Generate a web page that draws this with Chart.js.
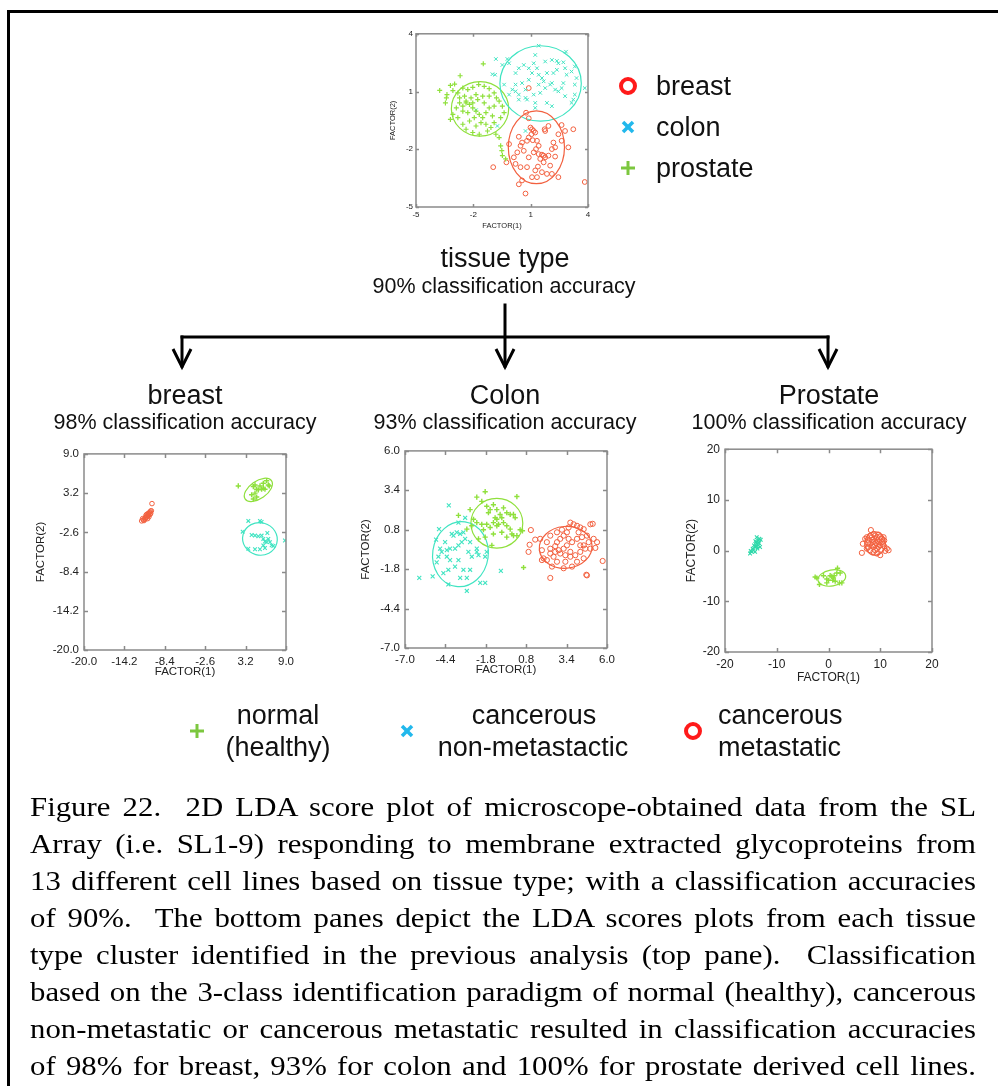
<!DOCTYPE html>
<html>
<head>
<meta charset="utf-8">
<script src="https://cdn.jsdelivr.net/npm/chart.js@4.4.1/dist/chart.umd.min.js"></script>
<style>
  body { margin: 0; width: 998px; height: 1086px; background: #fff; position: relative; overflow: hidden;
         font-family: "Liberation Sans", Arial, sans-serif; color: #111; }
  #frame { position: absolute; left: 7px; top: 10px; width: 1100px; height: 1200px;
           border-left: 3px solid #000; border-top: 3px solid #000; }
  .c { position: absolute; transform: translate(-50%, -50%); white-space: nowrap; line-height: 1; }
  .l { position: absolute; transform: translateY(-50%); white-space: nowrap; line-height: 1; }
  .h1 { font-size: 27px; }
  .h2 { font-size: 21.5px; }
  .lg { font-size: 27px; }
  canvas { position: absolute; }
  svg { position: absolute; left: 0; top: 0; pointer-events: none; }
  /* the caption in the source is slightly stretched sideways */
  #cap { position: absolute; left: 30px; top: 788px; width: 860px; color: #000;
         transform: scaleX(1.1); transform-origin: 0 0;
         font-family: "Liberation Serif", "Times New Roman", serif; font-size: 28px; line-height: 37px; }
  #cap div { text-align: justify; text-align-last: justify; }
</style>
</head>
<body>
<div id="frame"></div>

<canvas id="cTop" width="212" height="204" style="left:388px;top:26px"></canvas>
<canvas id="cBreast" width="266" height="237" style="left:34px;top:442px"></canvas>
<canvas id="cColon" width="262" height="238" style="left:359px;top:439px"></canvas>
<canvas id="cProstate" width="262" height="248" style="left:684px;top:437px"></canvas>

<svg width="998" height="1086">
  <g stroke="#000" stroke-width="3" fill="none" stroke-linecap="square">
    <line x1="505" y1="305" x2="505" y2="366"/>
    <line x1="182" y1="337" x2="828" y2="337"/>
    <line x1="182" y1="337" x2="182" y2="366"/>
    <line x1="828" y1="337" x2="828" y2="366"/>
    <polyline points="173,349 182,367 191,349" stroke-linecap="butt"/>
    <polyline points="496,349 505,367 514,349" stroke-linecap="butt"/>
    <polyline points="819,349 828,367 837,349" stroke-linecap="butt"/>
  </g>
  <!-- top legend markers -->
  <circle cx="628" cy="86" r="7" stroke="#ff1a1a" stroke-width="4" fill="none"/>
  <g stroke="#22b8ec" stroke-width="3.5"><line x1="623" y1="122" x2="633" y2="132"/><line x1="633" y1="122" x2="623" y2="132"/></g>
  <g stroke="#7cc73f" stroke-width="3"><line x1="621" y1="168" x2="635" y2="168"/><line x1="628" y1="161" x2="628" y2="175"/></g>
  <!-- bottom legend markers -->
  <g stroke="#7cc73f" stroke-width="3"><line x1="190" y1="731" x2="204" y2="731"/><line x1="197" y1="724" x2="197" y2="738"/></g>
  <g stroke="#22b8ec" stroke-width="3.5"><line x1="402" y1="726" x2="412" y2="736"/><line x1="412" y1="726" x2="402" y2="736"/></g>
  <circle cx="693" cy="731" r="7" stroke="#ff1a1a" stroke-width="4" fill="none"/>
</svg>

<div class="l lg" style="left:656px;top:86px">breast</div>
<div class="l lg" style="left:656px;top:127px">colon</div>
<div class="l lg" style="left:656px;top:168px">prostate</div>

<div class="c h1" style="left:505px;top:258px">tissue type</div>
<div class="c h2" style="left:504px;top:287px">90% classification accuracy</div>

<div class="c h1" style="left:185px;top:395px">breast</div>
<div class="c h2" style="left:185px;top:423px">98% classification accuracy</div>
<div class="c h1" style="left:505px;top:395px">Colon</div>
<div class="c h2" style="left:505px;top:423px">93% classification accuracy</div>
<div class="c h1" style="left:829px;top:395px">Prostate</div>
<div class="c h2" style="left:829px;top:423px">100% classification accuracy</div>

<div class="c lg" style="left:278px;top:715px">normal</div>
<div class="c lg" style="left:278px;top:747px">(healthy)</div>
<div class="c lg" style="left:534px;top:715px">cancerous</div>
<div class="c lg" style="left:533px;top:747px">non-metastactic</div>
<div class="l lg" style="left:718px;top:715px">cancerous</div>
<div class="l lg" style="left:718px;top:747px">metastatic</div>

<div id="cap">
  <div>Figure 22.&nbsp; 2D LDA score plot of microscope-obtained data from the SL</div>
  <div>Array (i.e. SL1-9) responding to membrane extracted glycoproteins from</div>
  <div>13 different cell lines based on tissue type; with a classification accuracies</div>
  <div>of 90%.&nbsp; The bottom panes depict the LDA scores plots from each tissue</div>
  <div>type cluster identified in the previous analysis (top pane).&nbsp; Classification</div>
  <div>based on the 3-class identification paradigm of normal (healthy), cancerous</div>
  <div>non-metastatic or cancerous metastatic resulted in classification accuracies</div>
  <div>of 98% for breast, 93% for colon and 100% for prostate derived cell lines.</div>
</div>

<script>
// ---- top pane: tissue type (FACTOR(1), FACTOR(2)) ----
const topTicksX = [-5, -2, 1, 4];
const topTicksY = [-5, -2, 1, 4];
const topProstate = [[-1.48,2.44],[-2.69,1.82],[-2.98,1.39],[-3.20,1.32],[-3.76,1.06],[-3.38,0.84],[-3.41,0.67],[-3.46,0.41],
  [-3.07,1.05],[-2.81,0.93],[-2.55,1.18],[-2.29,1.10],[-2.03,1.22],[-1.72,1.36],[-1.43,1.27],[-1.17,1.15],[-0.91,0.93],
  [-0.79,0.67],[-0.65,0.50],[-0.48,0.24],[-0.39,-0.10],[-0.57,-0.36],[-0.91,-0.62],[-1.08,-0.87],[-0.82,-1.22],[-0.65,-1.39],
  [-0.57,-1.82],[-0.51,-2.07],[-0.48,-2.33],[-0.31,-2.50],[-1.26,-1.05],[-1.69,-1.22],[-2.03,-1.13],[-2.38,-0.96],[-2.55,-0.70],
  [-2.81,-0.36],[-3.07,-0.19],[-3.20,-0.45],[-2.72,0.41],[-2.55,0.24],[-2.38,0.50],[-2.20,0.33],[-2.03,0.15],[-1.86,-0.02],
  [-1.69,-0.19],[-1.51,-0.36],[-1.34,-0.10],[-1.17,0.15],[-1.43,0.41],[-1.77,0.58],[-2.12,0.67],[-2.46,0.76],[-2.72,0.67],
  [-2.89,0.15],[-2.29,-0.10],[-1.95,-0.36],[-1.60,-0.62],[-1.34,-0.70],[-1.86,-0.79],[-2.20,-0.53],[-2.55,-0.02],[-1.17,0.76],
  [-1.51,0.76],[-1.86,0.84],[-0.91,0.24],[-1.00,-0.27],[-2.38,0.41],[-2.03,0.41]];
const topColon = [[1.42,3.38],[2.85,3.07],[-0.82,2.69],[-0.22,2.69],[-0.48,2.38],[-0.13,2.47],[-1.0,1.90],[-0.86,1.87],[0.21,1.96],
  [0.38,2.21],[0.64,2.38],[1.16,2.47],[1.24,2.90],[1.76,2.56],[2.11,2.64],[2.37,2.59],[2.45,2.47],[2.71,2.52],[2.80,2.21],
  [2.37,2.13],[2.19,1.96],[1.85,1.96],[1.59,1.70],[1.68,1.53],[1.42,1.87],[1.07,1.96],[0.90,1.61],[0.55,1.44],[0.21,1.36],
  [0.04,1.10],[-0.13,0.84],[0.38,0.84],[0.73,0.67],[1.24,0.41],[1.16,0.84],[1.50,0.93],[1.76,1.18],[2.02,1.36],[2.28,1.10],
  [2.45,1.01],[2.71,1.44],[2.88,1.87],[3.14,2.04],[3.40,1.70],[3.31,1.36],[3.31,0.84],[3.23,0.58],[3.14,0.41],[2.80,0.76],
  [2.11,0.24],[1.85,0.41],[1.24,0.15],[0.81,0.58],[0.38,0.58],[0.21,1.01],[-0.39,1.36],[0.73,1.10],[1.42,1.36],[2.11,1.44],
  [2.62,1.18],[3.83,1.18],[3.31,2.30],[0.90,2.21],[1.33,2.21],[-0.74,-0.79],[0.73,-1.05],[-1.86,0.03]];
const topBreast = [[0.90,1.18],[0.76,-0.10],[0.90,-0.39],[0.99,-0.87],[1.07,-0.96],[1.16,-1.05],[1.04,-1.22],[1.24,-1.13],
  [0.90,-1.39],[0.38,-1.35],[0.47,-1.82],[0.55,-1.65],[0.81,-1.56],[1.11,-1.53],[1.33,-1.56],[1.42,-1.82],[1.28,-1.99],
  [1.16,-2.16],[1.42,-2.25],[1.59,-2.28],[1.76,-2.42],[1.68,-2.33],[1.50,-2.50],[1.93,-2.33],[2.11,-1.99],[2.28,-1.90],
  [2.19,-1.65],[2.62,-1.56],[2.45,-1.22],[1.76,-1.05],[1.73,-0.96],[1.93,-0.79],[2.62,-0.74],[3.23,-0.96],[2.80,-1.05],
  [2.97,-1.90],[-0.13,-1.73],[0.30,-2.16],[0.12,-2.42],[-0.27,-2.68],[0.21,-2.76],[0.47,-2.93],[0.81,-2.93],[1.24,-3.10],
  [1.59,-3.19],[1.85,-3.28],[2.11,-3.28],[2.45,-3.45],[1.07,-3.45],[0.55,-3.62],[0.38,-3.82],[0.73,-4.30],[1.38,-2.90],
  [0.90,-2.42],[0.64,-2.08],[-0.96,-2.93],[3.83,-3.70],[1.33,-3.45],[2.02,-2.85],[2.28,-2.38],[1.68,-2.68]];
// ellipses: [centre x, centre y, semi-axis x, semi-axis y, tilt in degrees]
const topProstateEll = [-1.65, 0.10, 1.50, 1.42, 0];
const topColonEll = [1.52, 1.42, 2.13, 1.96, 0];
const topBreastEll = [1.30, -1.90, 1.47, 1.89, 0];

// ---- breast pane ----
const breastTicks = [-20.0, -14.2, -8.4, -2.6, 3.2, 9.0];
const breastNormal = [[2.15,4.26],[4.31,4.17],[4.55,4.41],[5.27,4.26],[5.74,4.65],[6.22,5.04],[6.46,4.41],[4.79,3.78],
  [5.50,3.78],[5.74,3.93],[4.07,2.96],[4.31,2.33],[4.79,2.62],[5.98,3.78],[6.60,4.26],[5.03,3.68],[4.55,3.20]];
const breastNonMet = [[3.59,-0.91],[5.26,-0.91],[5.50,-1.05],[2.78,-2.50],[4.07,-2.99],[4.55,-3.08],[5.03,-3.18],[5.50,-3.08],
  [6.32,-2.70],[5.74,-3.57],[5.98,-3.95],[6.22,-4.05],[6.70,-4.05],[6.94,-4.53],[5.74,-4.53],[5.98,-4.92],[5.26,-5.11],
  [4.55,-5.11],[3.59,-5.02],[8.85,-3.81],[7.18,-4.63],[6.46,-3.57]];
const breastMet = [[-11.72,-0.91],[-11.48,-0.76],[-11.24,-0.67],[-11.58,-0.57],[-11.10,-0.42],[-11.0,-0.28],[-10.91,-0.18],
  [-10.76,-0.09],[-11.0,0.06],[-10.72,0.16],[-10.62,0.30],[-10.53,0.40],[-10.43,0.54],[-10.76,0.20],[-11.24,-0.47],
  [-11.39,-0.86],[-10.53,0.06],[-10.33,0.59],[-10.24,1.65],[-10.86,-0.57],[-11.10,-0.09],[-10.67,-0.28],[-10.43,0.20]];
const breastNormalEll = [5.03, 3.68, 2.3, 1.3, 35];
const breastNonMetEll = [5.26, -3.57, 2.5, 2.4, -15];

// ---- colon pane ----
const colonTicks = [-7.0, -4.4, -1.8, 0.8, 3.4, 6.0];
const colonNormal = [[-1.84,3.31],[-2.38,2.95],[0.20,2.99],[-3.56,1.75],[-2.81,2.13],[-2.59,1.49],[-2.06,2.67],[-1.74,2.35],
  [-1.63,1.92],[-1.52,2.13],[-1.31,2.45],[-1.09,2.13],[-0.88,1.81],[-0.66,2.24],[-0.45,1.92],[-0.23,1.81],[-0.02,1.81],
  [0.09,1.59],[-1.09,1.49],[-1.31,1.27],[-0.98,1.16],[-0.66,1.27],[-0.45,1.06],[-0.23,0.84],[-0.12,0.52],[0.20,0.41],
  [0.41,0.80],[0.56,0.73],[-1.52,0.95],[-1.95,0.80],[-2.27,0.20],[-1.84,0.31],[-1.31,0.52],[-0.77,0.63],[-0.45,0.31],
  [-0.02,0.41],[0.63,-1.69],[-1.09,1.06],[-1.20,1.59],[-0.77,1.59],[-1.74,1.16],[-2.06,1.16],[-2.38,1.27],[-2.70,1.06],
  [-3.02,0.84],[-1.41,-0.23]];
const colonNonMet = [[-4.18,2.41],[-6.08,-2.38],[-5.22,-2.27],[-4.81,0.84],[-5.00,0.15],[-4.74,-0.45],[-4.42,-0.02],
  [-3.99,0.52],[-3.88,0.41],[-3.67,0.63],[-3.45,0.52],[-3.24,0.63],[-3.13,0.20],[-3.35,-0.02],[-3.56,-0.23],[-3.78,-0.45],
  [-4.10,-0.45],[-4.31,-0.55],[-4.64,-0.66],[-4.85,-0.98],[-4.31,-0.98],[-4.10,-1.20],[-3.56,-1.20],[-2.92,-0.66],
  [-2.70,-0.98],[-2.27,-0.88],[-1.84,-0.98],[-1.74,-0.66],[-2.38,-0.45],[-2.81,-0.02],[-2.81,-1.84],[-3.24,-1.84],
  [-3.78,-1.63],[-4.21,-1.84],[-4.21,-2.81],[-3.02,-2.38],[-2.16,-2.70],[-1.84,-2.70],[-0.83,-1.91],[-3.02,-3.24],
  [-4.96,-1.35],[-3.56,1.27],[-3.13,1.59],[-2.38,-0.66],[-4.53,-2.06],[-3.45,-2.38]];
const colonMet = [[1.10,0.78],[1.02,-0.19],[0.95,-0.66],[1.70,0.20],[1.81,-1.20],[1.92,-1.09],[2.13,-1.20],[2.35,-0.77],
  [2.56,-0.98],[2.35,-2.38],[3.21,-1.74],[4.67,-2.17],[4.71,-2.21],[5.72,-1.26],[5.14,0.20],[5.36,-0.02],[4.93,1.16],
  [5.08,1.19],[3.64,1.27],[3.85,1.16],[4.07,1.06],[4.28,0.95],[4.50,0.84],[3.42,0.63],[3.21,0.41],[2.99,0.20],[2.78,-0.02],
  [2.67,-0.28],[2.89,-0.55],[3.21,-0.45],[3.42,-0.23],[3.75,-0.02],[4.07,0.20],[4.39,0.31],[4.71,0.41],[4.82,-0.02],
  [4.60,-0.45],[4.28,-0.66],[3.96,-0.88],[3.64,-0.98],[3.32,-0.88],[2.99,-0.77],[2.67,-0.66],[2.35,-0.45],[2.13,-0.02],
  [2.35,0.41],[2.78,0.63],[3.10,0.80],[3.53,0.95],[4.17,0.63],[4.50,-0.23],[4.93,-0.45],[5.25,-0.40],[3.64,-0.66],
  [3.32,-1.31],[4.07,-1.31],[4.50,-1.09],[2.78,-1.31],[2.46,-1.63],[3.75,-1.63],[1.38,0.15],[1.81,-0.55],[4.28,-0.23],
  [3.53,0.20]];
const colonNormalEll = [-1.09, 1.23, 1.67, 1.64, 0];
const colonNonMetEll = [-3.43, -0.81, 1.79, 2.15, -8];
const colonMetEll = [3.34, -0.36, 1.70, 1.38, 5];

// ---- prostate pane ----
const prostateTicks = [-20, -10, 0, 10, 20];
const prostateNormal = [[-2.58,-5.21],[-2.26,-5.40],[-1.75,-6.68],[-0.33,-6.36],[0.0,-5.85],[0.32,-4.95],[0.64,-5.08],
  [0.96,-5.40],[1.29,-6.04],[1.61,-4.43],[1.74,-3.47],[2.25,-4.43],[2.12,-6.36],[2.58,-6.36],[-0.97,-4.95],[-0.33,-5.59],
  [0.83,-5.85],[1.09,-4.95]];
const prostateNonMet = [[-15.16,-0.58],[-14.84,-0.25],[-14.52,0.07],[-14.19,0.71],[-13.87,1.35],[-13.55,1.99],[-13.36,2.32],
  [-14.0,1.67],[-14.39,1.03],[-13.74,0.39],[-13.23,0.71],[-13.55,1.03],[-14.13,1.87],[-13.87,2.64],[-14.65,0.39],
  [-14.19,-0.25],[-13.42,1.48],[-13.10,2.12],[-15.03,-0.06],[-13.94,0.84]];
const prostateMet = [[8.19,4.05],[6.45,-0.45],[6.64,1.35],[7.09,2.32],[7.41,2.64],[7.74,1.99],[8.06,2.96],[8.38,2.64],
  [8.70,3.28],[9.03,2.96],[9.35,2.64],[9.67,3.15],[9.99,2.77],[10.32,2.32],[10.64,2.64],[10.77,1.99],[10.51,1.35],
  [9.99,1.03],[9.67,0.71],[9.35,0.39],[9.03,0.07],[8.70,0.71],[8.38,1.03],[8.06,1.35],[7.74,0.71],[7.41,0.39],[8.57,1.67],
  [9.22,1.48],[9.86,1.67],[8.83,2.32],[9.48,1.99],[10.19,0.20],[10.96,-0.06],[11.61,0.07],[11.28,0.39],[8.70,-0.25],
  [9.35,-0.58],[9.99,-0.90],[8.06,0.07],[9.67,1.35],[9.03,1.03],[10.32,1.67],[8.38,2.12],[7.74,1.48],[10.77,0.84]];
const prostateNormalEll = [0.64, -5.40, 2.71, 1.58, 10];
const prostateMetEll = [9.0, 1.4, 2.0, 2.3, 0];

const RED = '#f2603f', CYAN = '#40e4c2', CYAN2 = '#2ed9aa', GREEN = '#8fe03c';
const FONT = '"Liberation Sans", Arial, sans-serif';

const pts = arr => arr.map(([x, y]) => ({ x, y }));

// ellipses, gray frame and inward tick marks drawn through the chart's own scales
const lda = {
  id: 'lda',
  beforeDatasetsDraw(chart, args, o) {
    const { ctx, scales: { x, y } } = chart;
    (o.ellipses || []).forEach(([e, color]) => {
      const [cx, cy, rx, ry, deg] = e;
      const px = x.getPixelForValue(cx), py = y.getPixelForValue(cy);
      const kx = Math.abs(x.getPixelForValue(cx + 1) - px);
      const ky = Math.abs(y.getPixelForValue(cy + 1) - py);
      ctx.save();
      ctx.beginPath();
      ctx.ellipse(px, py, rx * kx, ry * ky, -deg * Math.PI / 180, 0, 2 * Math.PI);
      ctx.strokeStyle = color;
      ctx.lineWidth = o.lw || 1.2;
      ctx.stroke();
      ctx.restore();
    });
  },
  afterDraw(chart, args, o) {
    const { ctx, chartArea: a, scales: { x, y } } = chart;
    const t = o.tick || 4;
    ctx.save();
    ctx.strokeStyle = '#8a8a8a';
    ctx.lineWidth = o.fw || 1.5;
    ctx.strokeRect(a.left, a.top, a.right - a.left, a.bottom - a.top);
    ctx.beginPath();
    x.ticks.forEach(tk => {
      const px = Math.round(x.getPixelForValue(tk.value)) + 0.5;
      ctx.moveTo(px, a.bottom); ctx.lineTo(px, a.bottom - t);
      ctx.moveTo(px, a.top); ctx.lineTo(px, a.top + t);
    });
    y.ticks.forEach(tk => {
      const py = Math.round(y.getPixelForValue(tk.value)) + 0.5;
      ctx.moveTo(a.left, py); ctx.lineTo(a.left + t, py);
      ctx.moveTo(a.right, py); ctx.lineTo(a.right - t, py);
    });
    ctx.stroke();
    ctx.restore();
  }
};

function axis(ticks, title, fmt, size, size2, fixed, horiz, pad) {
  return {
    type: 'linear',
    min: ticks[0], max: ticks[ticks.length - 1],
    ticks: { stepSize: ticks[1] - ticks[0], autoSkip: false, maxRotation: 0, padding: pad,
             color: '#222', font: { family: FONT, size }, callback: fmt },
    grid: { display: false, drawTicks: false },
    border: { display: false },
    title: { display: true, text: title, color: '#222', padding: 0, font: { family: FONT, size: size2 } },
    afterFit: s => { if (horiz) s.height = fixed; else s.width = fixed; }
  };
}

function pane(id, sets, ellipses, ticksX, ticksY, fmt, box) {
  new Chart(document.getElementById(id), {
    type: 'scatter',
    data: { datasets: sets },
    options: {
      responsive: false, animation: false, devicePixelRatio: 1,
      layout: { padding: { top: box.padT, right: box.padR, left: 0, bottom: 0 } },
      plugins: { legend: { display: false }, tooltip: { enabled: false },
                 lda: { ellipses, tick: box.tick, fw: box.fw } },
      scales: {
        x: axis(ticksX, 'FACTOR(1)', fmt, box.fs, box.fs2, box.xH, true, box.tp),
        y: axis(ticksY, 'FACTOR(2)', fmt, box.fs, box.fs2, box.yW, false, box.tp)
      }
    },
    plugins: [lda]
  });
}

function ds(arr, style, color, r, bw) {
  return { data: pts(arr), pointStyle: style, pointRadius: r, borderColor: color,
           backgroundColor: 'rgba(0,0,0,0)', borderWidth: bw };
}

const int = v => String(v);
const one = v => v.toFixed(1);

pane('cTop',
  [ds(topProstate, 'cross', GREEN, 2.5, 1.2), ds(topColon, 'crossRot', CYAN, 2.5, 1), ds(topBreast, 'circle', RED, 2.4, 1)],
  [[topProstateEll, GREEN], [topColonEll, CYAN], [topBreastEll, RED]],
  topTicksX, topTicksY, int,
  { padT: 6, padR: 12, yW: 28, xH: 23, fs: 8, fs2: 7.5, tp: 3, tick: 3, fw: 1.5 });

pane('cBreast',
  [ds(breastNormal, 'cross', GREEN, 2.6, 1.4), ds(breastNonMet, 'crossRot', CYAN, 2.6, 1.1), ds(breastMet, 'circle', RED, 2.3, 1)],
  [[breastNormalEll, GREEN], [breastNonMetEll, CYAN]],
  breastTicks, breastTicks, one,
  { padT: 8, padR: 14, yW: 50, xH: 29, fs: 11.5, fs2: 11.5, tp: 5, tick: 4, fw: 1.5 });

pane('cColon',
  [ds(colonNormal, 'cross', GREEN, 2.6, 1.4), ds(colonNonMet, 'crossRot', CYAN, 2.8, 1.1), ds(colonMet, 'circle', RED, 2.6, 1)],
  [[colonNormalEll, GREEN], [colonNonMetEll, CYAN], [colonMetEll, RED]],
  colonTicks, colonTicks, one,
  { padT: 8, padR: 14, yW: 46, xH: 29, fs: 11.5, fs2: 11.5, tp: 5, tick: 4, fw: 1.5 });

pane('cProstate',
  [ds(prostateNormal, 'cross', GREEN, 2.6, 1.4), ds(prostateNonMet, 'crossRot', CYAN2, 2.6, 1.1), ds(prostateMet, 'circle', RED, 2.6, 1)],
  [[prostateNormalEll, GREEN], [prostateMetEll, RED]],
  prostateTicks, prostateTicks, int,
  { padT: 8, padR: 14, yW: 41, xH: 33, fs: 12, fs2: 12, tp: 5, tick: 4, fw: 1.5 });
</script>
</body>
</html>
